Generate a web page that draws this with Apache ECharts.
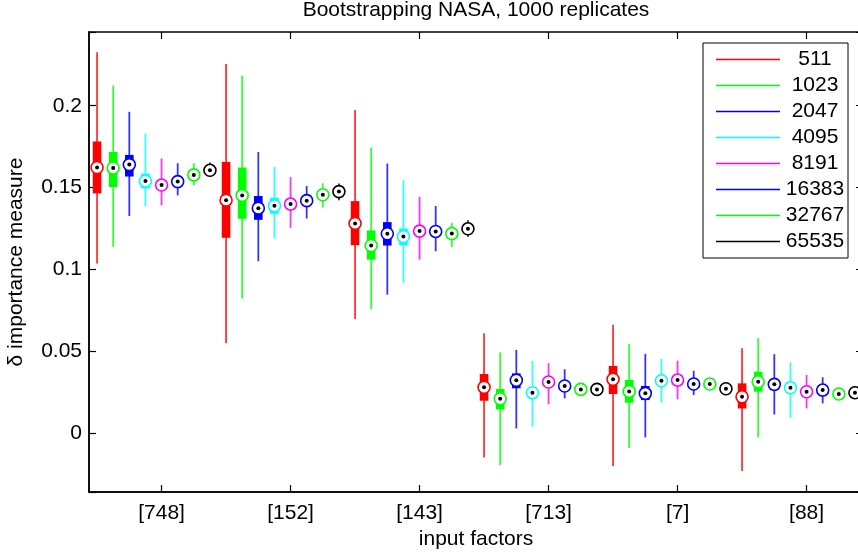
<!DOCTYPE html>
<html>
<head>
<meta charset="utf-8">
<script src="https://cdn.jsdelivr.net/npm/echarts@6/dist/echarts.min.js"></script>
<style>
  html, body { margin: 0; padding: 0; background: #fff; }
  #chart { width: 858px; height: 553px; }
</style>
</head>
<body>
<div id="chart"></div>
<script>
  // input factors (one group of 8 boxes each)
  var factors = ['[748]', '[152]', '[143]', '[713]', '[7]', '[88]'];
  // bootstrap sample sizes, one box per factor
  var sizes = ['511', '1023', '2047', '4095', '8191', '16383', '32767', '65535'];
  var colors = ['#ff0000', '#00ff00', '#0000ff', '#00ffff', '#ff00ff', '#0000ff', '#00ff00', '#000000'];
  var yTicks = [0, 0.05, 0.1, 0.15, 0.2];

  // [whisker low, q1, median, q3, whisker high] per factor
  var s511 = [
    [0.1037, 0.1465, 0.1623, 0.1782, 0.2327],
    [0.0551, 0.1194, 0.1424, 0.1657, 0.2255],
    [0.0698, 0.1149, 0.1282, 0.1418, 0.1974],
    [-0.0147, 0.0200, 0.0282, 0.0363, 0.0612],
    [-0.0198, 0.0241, 0.0331, 0.0412, 0.0663],
    [-0.0229, 0.0153, 0.0224, 0.0306, 0.0520]
  ];
  var s1023 = [
    [0.1139, 0.1504, 0.1620, 0.1718, 0.2123],
    [0.0824, 0.1310, 0.1453, 0.1623, 0.2184],
    [0.0759, 0.1061, 0.1147, 0.1239, 0.1745],
    [-0.0194, 0.0147, 0.0212, 0.0271, 0.0496],
    [-0.0088, 0.0188, 0.0257, 0.0327, 0.0547],
    [-0.0024, 0.0255, 0.0316, 0.0377, 0.0582]
  ];
  var s2047 = [
    [0.1327, 0.1568, 0.1641, 0.1700, 0.1963],
    [0.1051, 0.1304, 0.1375, 0.1449, 0.1718],
    [0.0847, 0.1147, 0.1219, 0.1290, 0.1647],
    [0.0031, 0.0276, 0.0325, 0.0367, 0.0510],
    [-0.0024, 0.0204, 0.0245, 0.0290, 0.0486],
    [0.0116, 0.0265, 0.0300, 0.0331, 0.0484]
  ];
  var s4095 = [
    [0.1388, 0.1496, 0.1541, 0.1586, 0.1831],
    [0.1190, 0.1341, 0.1390, 0.1439, 0.1627],
    [0.0919, 0.1149, 0.1202, 0.1251, 0.1545],
    [0.0041, 0.0215, 0.0249, 0.0282, 0.0443],
    [0.0188, 0.0290, 0.0322, 0.0352, 0.0455],
    [0.0096, 0.0247, 0.0279, 0.0310, 0.0435]
  ];
  var s8191 = [
    [0.1392, 0.1486, 0.1516, 0.1546, 0.1678],
    [0.1255, 0.1370, 0.1400, 0.1430, 0.1565],
    [0.1061, 0.1205, 0.1235, 0.1265, 0.1445],
    [0.0178, 0.0284, 0.0314, 0.0344, 0.0429],
    [0.0208, 0.0296, 0.0326, 0.0356, 0.0445],
    [0.0153, 0.0225, 0.0255, 0.0285, 0.0357]
  ];
  var s16383 = [
    [0.1453, 0.1510, 0.1537, 0.1565, 0.1649],
    [0.1312, 0.1394, 0.1421, 0.1448, 0.1510],
    [0.1112, 0.1206, 0.1233, 0.1260, 0.1388],
    [0.0214, 0.0263, 0.0290, 0.0317, 0.0392],
    [0.0235, 0.0275, 0.0302, 0.0329, 0.0383],
    [0.0184, 0.0238, 0.0265, 0.0292, 0.0343]
  ];
  var s32767 = [
    [0.1514, 0.1553, 0.1578, 0.1603, 0.1649],
    [0.1378, 0.1432, 0.1457, 0.1482, 0.1527],
    [0.1137, 0.1195, 0.1220, 0.1245, 0.1286],
    [0.0228, 0.0244, 0.0269, 0.0294, 0.0306],
    [0.0275, 0.0277, 0.0302, 0.0327, 0.0330],
    [0.0211, 0.0216, 0.0241, 0.0266, 0.0271]
  ];
  var s65535 = [
    [0.1565, 0.1586, 0.1606, 0.1626, 0.1653],
    [0.1424, 0.1456, 0.1476, 0.1496, 0.1525],
    [0.1200, 0.1229, 0.1249, 0.1269, 0.1302],
    [0.0239, 0.0249, 0.0269, 0.0289, 0.0299],
    [0.0238, 0.0253, 0.0273, 0.0293, 0.0308],
    [0.0219, 0.0229, 0.0249, 0.0269, 0.0279]
  ];
  var allBoxes = [s511, s1023, s2047, s4095, s8191, s16383, s32767, s65535];

  var font = 'Liberation Sans, Arial, Helvetica, sans-serif';
  var yMin = -0.0357, yMax = 0.245;

  // 48 box slots, factor label sits under the 5th box of each group
  var slots = [];
  factors.forEach(function (f) {
    for (var i = 0; i < 8; i++) slots.push(i === 4 ? f : '');
  });
  var labelled = function (idx, val) { return val !== ''; };

  function renderBox(params, api) {
    var x = api.coord([api.value(0), 0])[0];
    var y = function (i) { return api.coord([api.value(0), api.value(i)])[1]; };
    var c = api.visual('color');
    var lo = y(1), q1 = y(2), med = y(3), q3 = y(4), hi = y(5);
    return {
      type: 'group',
      children: [
        { type: 'line', shape: { x1: x, y1: lo, x2: x, y2: hi },
          style: { stroke: c, lineWidth: 1.8, opacity: 0.8 } },
        { type: 'rect', shape: { x: x - 4.3, y: q3, width: 8.6, height: q1 - q3 },
          style: { fill: c } },
        { type: 'circle', shape: { cx: x, cy: med, r: 6 },
          style: { fill: '#fff', stroke: c, lineWidth: 1.6 } },
        { type: 'circle', shape: { cx: x, cy: med, r: 2 },
          style: { fill: '#000' } }
      ]
    };
  }

  var series = allBoxes.map(function (boxes, k) {
    return {
      name: sizes[k],
      type: 'custom',
      renderItem: renderBox,
      itemStyle: { color: colors[k] },
      encode: { x: 0, y: [1, 2, 3, 4, 5] },
      data: boxes.map(function (b, g) { return [g * 8 + k].concat(b); })
    };
  });

  var axisLine = { show: true, onZero: false, lineStyle: { color: '#000', width: 1.5 } };
  var tickStyle = { color: '#000', width: 1.2 };

  // tick-only axes (the box frame with inward ticks)
  function xTicks(pos) {
    return {
      type: 'category', data: slots, position: pos, boundaryGap: true,
      axisLine: axisLine,
      axisTick: { show: true, inside: true, length: 7, alignWithLabel: true, interval: labelled, lineStyle: tickStyle },
      axisLabel: { show: false },
      splitLine: { show: false }
    };
  }
  function yTickAxis(pos) {
    return {
      type: 'value', min: yMin, max: yMax, position: pos,
      axisLine: axisLine,
      axisTick: { show: true, inside: true, length: 7, lineStyle: tickStyle },
      axisLabel: { show: false },
      splitLine: { show: false }
    };
  }

  var chart = echarts.init(document.getElementById('chart'));
  chart.setOption({
    animation: false,
    color: colors,
    textStyle: { fontFamily: font, color: '#000' },
    title: {
      text: 'Bootstrapping NASA, 1000 replicates',
      left: 476, top: 0, padding: 0, textAlign: 'center',
      textStyle: { fontFamily: font, fontSize: 21, fontWeight: 'normal', color: '#000' }
    },
    legend: {
      orient: 'vertical',
      left: 703, top: 43,
      padding: [6, 3, 6, 13],
      backgroundColor: '#fff',
      borderColor: '#000', borderWidth: 1,
      icon: 'rect', itemWidth: 64, itemHeight: 1.5, itemGap: 5,
      selectedMode: false,
      data: sizes,
      formatter: function (n) { return '{a|' + n + '}'; },
      textStyle: {
        fontFamily: font, fontSize: 21, color: '#000',
        rich: { a: { width: 60, align: 'center', fontSize: 21, lineHeight: 21, fontFamily: font } }
      }
    },
    grid: { left: 89, right: -5, top: 32, bottom: 61, containLabel: false, outerBoundsMode: 'none' },
    xAxis: [{
      type: 'category', data: slots, position: 'bottom', boundaryGap: true,
      axisLine: axisLine,
      axisTick: { show: false },
      axisLabel: { interval: labelled, color: '#000', fontFamily: font, fontSize: 21, margin: 11 },
      splitLine: { show: false },
      name: 'input factors', nameLocation: 'middle', nameGap: 34,
      nameTextStyle: { fontFamily: font, fontSize: 21, color: '#000' }
    }, xTicks('top'), xTicks('bottom')],
    yAxis: [{
      type: 'value', min: yMin, max: yMax, position: 'left',
      axisLine: axisLine,
      axisTick: { show: false },
      axisLabel: { customValues: yTicks, color: '#000', fontFamily: font, fontSize: 21, margin: 7,
        formatter: function (v) { return String(v); } },
      splitLine: { show: false },
      name: 'δ importance measure', nameLocation: 'middle', nameGap: 62,
      nameTextStyle: { fontFamily: font, fontSize: 21, color: '#000' }
    }, yTickAxis('right'), yTickAxis('left')],
    series: series
  });
</script>
</body>
</html>
